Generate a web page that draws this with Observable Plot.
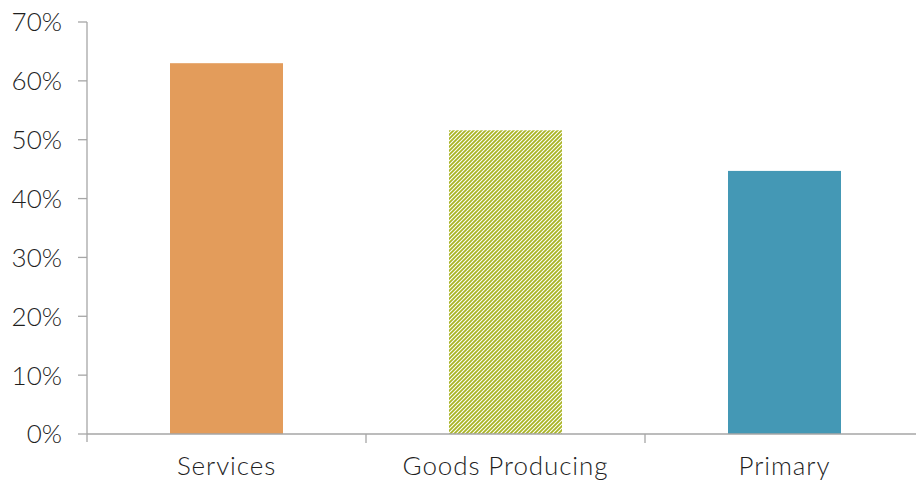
<!DOCTYPE html>
<html>
<head>
<meta charset="utf-8">
<script src="https://cdn.jsdelivr.net/npm/d3@7"></script>
<script src="https://cdn.jsdelivr.net/npm/@observablehq/plot@0.6"></script>
<style>
  html, body { margin: 0; padding: 0; background: #fff; }
  #chart { width: 917px; height: 484px; }
</style>
</head>
<body>
<div id="chart"></div>
<script>
const categories = ["Services", "Goods Producing", "Primary"];
const shares = [0.63, 0.516, 0.447];
const fills = ["#E39C5B", "url(#hatch)", "#4498B5"];
const yTicks = [0, 0.1, 0.2, 0.3, 0.4, 0.5, 0.6, 0.7];

const data = categories.map((c, i) => ({category: c, value: shares[i], fill: fills[i]}));
const axisColor = "#a6a6a6";
const textColor = "#1f1f1f";

const chart = Plot.plot({
  width: 917,
  height: 484,
  marginLeft: 87,
  marginRight: 2,
  marginTop: 22,
  marginBottom: 50,
  style: {fontFamily: "Lato, 'Open Sans', sans-serif", color: textColor, background: "#fff"},
  x: {domain: categories, padding: 0, range: [87, 924], axis: null},
  y: {domain: [0, 0.7], axis: null},
  color: {type: "identity"},
  marks: [
    () => {
      const svg = d3.create("svg:g");
      const p = svg.append("defs").append("pattern")
        .attr("id", "hatch")
        .attr("patternUnits", "userSpaceOnUse")
        .attr("width", 4).attr("height", 4);
      p.append("rect").attr("width", 4).attr("height", 4).attr("fill", "#fff");
      p.append("path")
        .attr("d", "M-1,1 L1,-1 M0,4 L4,0 M3,5 L5,3")
        .attr("stroke", "#A9B424")
        .attr("stroke-width", 1.8);
      return svg.node();
    },
    Plot.barY(data, {x: "category", y: "value", fill: "fill", insetLeft: 83, insetRight: 83}),
    (index, scales, values, dimensions) => {
      const g = d3.create("svg:g");
      const x = scales.x, y = scales.y;
      const left = dimensions.marginLeft;
      const bottom = y(0);
      const bw = x.bandwidth();
      g.append("line").attr("x1", left).attr("x2", dimensions.width - 1)
        .attr("y1", bottom).attr("y2", bottom)
        .attr("stroke", axisColor).attr("stroke-width", 1.3);
      g.append("line").attr("x1", left).attr("x2", left)
        .attr("y1", y(0.7)).attr("y2", bottom + 8)
        .attr("stroke", axisColor).attr("stroke-width", 1.3);
      for (const t of yTicks) {
        g.append("line").attr("x1", left - 9).attr("x2", left)
          .attr("y1", y(t)).attr("y2", y(t))
          .attr("stroke", axisColor).attr("stroke-width", 1.3);
        g.append("text").attr("x", left - 25).attr("y", y(t))
          .attr("text-anchor", "end").attr("dy", "0.36em")
          .attr("font-size", 26).attr("font-weight", 300).attr("fill", textColor)
          .text(Math.round(t * 100) + "%");
      }
      categories.forEach((c, i) => {
        if (i > 0) {
          g.append("line").attr("x1", x(c)).attr("x2", x(c))
            .attr("y1", bottom).attr("y2", bottom + 9)
            .attr("stroke", axisColor).attr("stroke-width", 1.3);
        }
        g.append("text").attr("x", x(c) + bw / 2).attr("y", bottom + 32)
          .attr("text-anchor", "middle").attr("dy", "0.36em")
          .attr("font-size", 26).attr("font-weight", 300)
          .attr("letter-spacing", "0.9px").attr("fill", textColor)
          .text(c);
      });
      return g.node();
    }
  ]
});

document.getElementById("chart").appendChild(chart);
</script>
</body>
</html>
